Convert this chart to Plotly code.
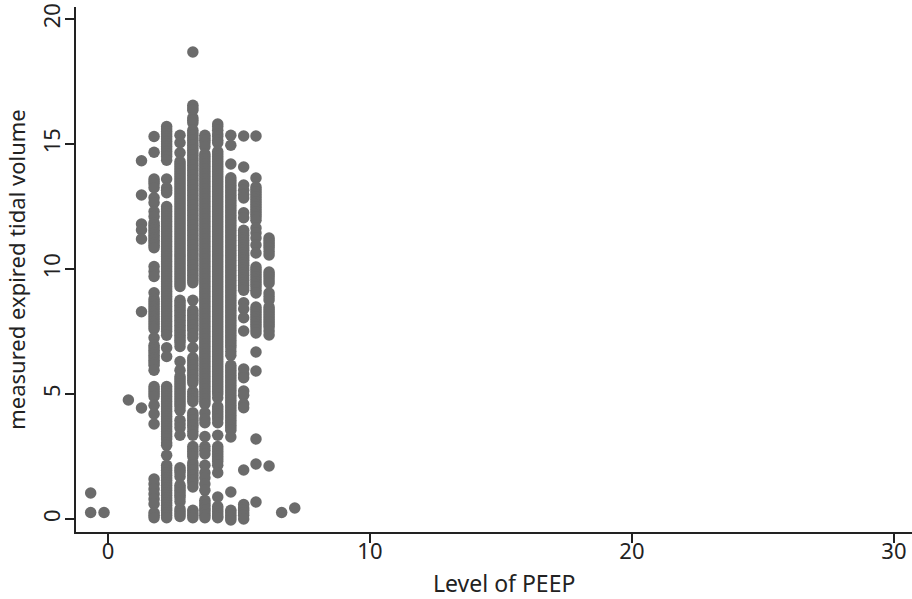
import plotly.graph_objects as go

peep_levels = [-0.66, -0.15, 0.78, 1.28, 1.76, 2.24, 2.75, 3.24, 3.70, 4.19, 4.69, 5.18, 5.65, 6.15, 6.63, 7.13]

volumes = [
    [1.04, 0.26],
    [0.26],
    [4.76],
    [14.33, 12.96, 11.8, 11.56, 11.2, 8.29, 4.44],
    [15.3, 14.67, 13.6, 13.5, 13.4, 13.25, 12.85, 12.65, 12.3, 12.1, 11.85, 11.75, 11.65, 11.55, 11.45, 11.35, 11.25, 11.15, 11.05, 10.95, 10.85, 10.1, 9.9, 9.7,
     9.05, 8.8, 8.7, 8.6, 8.5, 8.4, 8.3, 8.2, 8.1, 8.0, 7.9, 7.8, 7.7, 7.6, 7.25, 6.95, 6.85, 6.75, 6.65, 6.55, 6.45, 6.35, 6.25, 6.15, 5.95, 5.3, 5.2, 5.1, 5.0, 4.9, 4.55, 4.2, 3.8,
     1.6, 1.4, 1.2, 1.0, 0.8, 0.6, 0.25, 0.15, 0.05],
    [15.7, 15.6, 15.5, 15.4, 15.3, 15.2, 15.1, 15.0, 14.9, 14.8, 14.7, 14.6, 14.5, 14.35, 13.6, 13.25, 13.15, 13.05,
     12.5, 12.4, 12.3, 12.2, 12.1, 12.0, 11.9, 11.8, 11.7, 11.6, 11.5, 11.4, 11.3, 11.2, 11.1, 11.0, 10.9, 10.8, 10.7, 10.6, 10.5, 10.4, 10.3, 10.2, 10.1, 10.0,
     9.9, 9.8, 9.7, 9.6, 9.5, 9.4, 9.3, 9.2, 9.1, 9.0, 8.9, 8.8, 8.7, 8.6, 8.5, 8.4, 8.3, 8.2, 8.1, 8.0, 7.9, 7.8, 7.7, 7.6, 7.5, 7.35, 6.85, 6.5,
     5.3, 5.2, 5.1, 5.0, 4.9, 4.8, 4.7, 4.6, 4.5, 4.4, 4.3, 4.2, 4.1, 4.0, 3.9, 3.8, 3.7, 3.6, 3.5, 3.4, 3.3, 3.2, 3.05, 2.95, 2.55,
     2.15, 2.05, 1.95, 1.85, 1.75, 1.65, 1.55, 1.45, 1.35, 1.25, 1.15, 1.05, 0.95, 0.85, 0.75, 0.65, 0.55, 0.45, 0.35, 0.25, 0.15, 0.05],
    [15.35, 15.05, 14.65, 14.3, 14.2, 14.1, 14.0, 13.9, 13.8, 13.7, 13.6, 13.5, 13.4, 13.3, 13.2, 13.1, 13.0, 12.9, 12.8, 12.7, 12.6, 12.5, 12.4, 12.3, 12.2, 12.1, 12.0,
     11.9, 11.8, 11.7, 11.6, 11.5, 11.4, 11.3, 11.2, 11.1, 11.0, 10.9, 10.8, 10.7, 10.6, 10.5, 10.4, 10.3, 10.2, 10.1, 10.0, 9.9, 9.8, 9.7, 9.6, 9.5, 9.4, 9.3,
     8.75, 8.65, 8.55, 8.45, 8.35, 8.25, 8.15, 8.05, 7.95, 7.85, 7.75, 7.65, 7.55, 7.45, 7.35, 7.25, 7.15, 7.05, 6.9,
     6.3, 5.95, 5.7, 5.6, 5.5, 5.4, 5.3, 5.2, 5.1, 5.0, 4.9, 4.8, 4.7, 4.6, 4.5, 4.35, 3.95, 3.8, 3.65, 3.35, 2.05, 1.95, 1.85, 1.7, 1.35, 1.25, 1.15, 1.05, 0.95, 0.85, 0.7,
     0.4, 0.3, 0.2, 0.1],
    [18.68, 16.55, 16.45, 16.35, 16.05, 15.95, 15.85, 15.55, 15.45, 15.35, 15.25, 15.15, 15.05, 14.95, 14.85, 14.75, 14.65, 14.55, 14.45, 14.35, 14.25, 14.15, 14.05, 13.95, 13.85, 13.75, 13.65, 13.55, 13.45, 13.35,
     13.25, 13.15, 13.05, 12.95, 12.85, 12.75, 12.65, 12.55, 12.45, 12.35, 12.25, 12.15, 12.05, 11.95, 11.85, 11.75, 11.65, 11.55, 11.45, 11.35, 11.25, 11.15, 11.05, 10.95, 10.85, 10.75, 10.65, 10.55, 10.45, 10.35, 10.25, 10.15, 10.05, 9.95,
     9.85, 9.75, 9.65, 9.55, 9.45, 8.75, 8.35, 8.25, 8.15, 8.05, 7.95, 7.85, 7.75, 7.65, 7.55, 7.4, 7.25, 6.85, 6.45, 6.35, 6.25, 6.15, 6.05, 5.95, 5.85, 5.75, 5.65, 5.55, 5.45, 5.1, 5.0, 4.9, 4.8, 4.7,
     4.25, 4.15, 4.05, 3.95, 3.85, 3.75, 3.65, 3.5, 3.35, 2.9, 2.8, 2.7, 2.6, 2.5, 2.25, 2.15, 2.05, 1.95, 1.85, 1.75, 1.65, 1.55, 1.45, 1.28, 0.35, 0.25, 0.15, 0.05],
    [15.35, 15.25, 15.15, 15.05, 14.9, 14.6, 14.5, 14.4, 14.3, 14.2, 14.1, 14.0, 13.9, 13.8, 13.7, 13.6, 13.5, 13.4, 13.3, 13.2, 13.1, 13.0, 12.9, 12.8, 12.7, 12.6, 12.5, 12.4, 12.3, 12.2, 12.1, 12.0,
     11.9, 11.8, 11.7, 11.6, 11.5, 11.4, 11.3, 11.2, 11.1, 11.0, 10.9, 10.8, 10.7, 10.6, 10.5, 10.4, 10.3, 10.2, 10.1, 10.0, 9.9, 9.8, 9.7, 9.6, 9.5, 9.4, 9.3, 9.2, 9.1, 9.0,
     8.9, 8.8, 8.7, 8.6, 8.5, 8.4, 8.3, 8.2, 8.1, 8.0, 7.9, 7.8, 7.7, 7.6, 7.5, 7.4, 7.3, 7.2, 7.1, 7.0, 6.9, 6.8, 6.7, 6.6, 6.5, 6.4, 6.3, 6.2, 6.1, 6.0,
     5.9, 5.8, 5.7, 5.6, 5.5, 5.4, 5.3, 5.2, 5.1, 5.0, 4.9, 4.8, 4.7, 4.6, 4.25, 4.0, 3.85, 3.3, 2.9, 2.75, 2.6, 2.15, 1.85,
     1.65, 1.4, 1.15, 0.75, 0.65, 0.55, 0.45, 0.35, 0.25, 0.15, 0.05],
    [15.8, 15.7, 15.55, 15.4, 15.3, 15.15, 15.05, 14.7, 14.6, 14.5, 14.4, 14.3, 14.2, 14.1, 14.0, 13.9, 13.8, 13.7, 13.6, 13.5, 13.4, 13.3, 13.2, 13.1, 13.0, 12.9, 12.8, 12.7, 12.6, 12.5, 12.4, 12.3, 12.2, 12.1, 12.0,
     11.9, 11.8, 11.7, 11.6, 11.5, 11.4, 11.3, 11.2, 11.1, 11.0, 10.9, 10.8, 10.7, 10.6, 10.5, 10.4, 10.3, 10.2, 10.1, 10.0, 9.9, 9.8, 9.7, 9.6, 9.5, 9.4, 9.3, 9.2, 9.1, 9.0,
     8.9, 8.8, 8.7, 8.6, 8.5, 8.4, 8.3, 8.2, 8.1, 8.0, 7.9, 7.8, 7.7, 7.6, 7.5, 7.4, 7.3, 7.2, 7.1, 7.0, 6.9, 6.8, 6.7, 6.6, 6.5, 6.4, 6.3, 6.2, 6.1, 6.0,
     5.9, 5.8, 5.7, 5.6, 5.5, 5.4, 5.3, 5.2, 5.1, 5.0, 4.85, 4.5, 4.4, 4.3, 4.2, 4.1, 4.0, 3.85, 3.35, 2.9, 2.8, 2.7, 2.6, 2.5, 2.4, 2.3, 2.15,
     1.85, 0.88, 0.5, 0.4, 0.3, 0.2, 0.1, 0.05],
    [15.35, 14.95, 14.2, 13.65, 13.55, 13.45, 13.35, 13.25, 13.15, 13.05, 12.95, 12.85, 12.75, 12.65, 12.55, 12.45, 12.35, 12.25, 12.15, 12.05, 11.95, 11.85, 11.75, 11.65, 11.55, 11.45, 11.35, 11.25, 11.15, 11.05,
     10.95, 10.85, 10.75, 10.65, 10.55, 10.45, 10.35, 10.25, 10.15, 10.05, 9.95, 9.85, 9.75, 9.65, 9.55, 9.45, 9.35, 9.25, 9.15, 9.05, 8.95, 8.85, 8.75, 8.65, 8.55, 8.45, 8.35, 8.25, 8.15, 8.05,
     7.95, 7.85, 7.75, 7.65, 7.55, 7.45, 7.35, 7.25, 7.15, 7.05, 6.95, 6.85, 6.7, 6.55, 6.15, 6.05, 5.95, 5.85, 5.75, 5.65, 5.55, 5.45, 5.35, 5.25, 5.15, 5.05, 4.95, 4.85, 4.75, 4.65, 4.55,
     4.45, 4.35, 4.25, 4.15, 4.05, 3.95, 3.85, 3.75, 3.65, 3.55, 3.28, 1.08, 0.35, 0.25, 0.15, 0.05, -0.04],
    [15.32, 14.08, 13.36, 13.15, 12.98, 12.84, 12.25, 12.05, 11.55, 11.45, 11.35, 11.25, 11.15, 11.05, 10.95, 10.85, 10.75, 10.65, 10.55, 10.45, 10.35, 10.25, 10.15, 10.05, 9.95,
     9.85, 9.75, 9.65, 9.55, 9.45, 9.35, 9.25, 9.15, 8.65, 8.4, 8.05, 7.52, 6.0, 5.8, 5.65, 5.12, 4.95, 4.6, 4.45, 1.96, 0.58, 0.45, 0.35, 0.25, 0.15, 0.0],
    [15.32, 13.64, 13.28, 13.18, 13.08, 12.98, 12.88, 12.78, 12.68, 12.58, 12.48, 12.38, 12.28, 12.18, 12.08, 11.95, 11.64, 11.44, 11.24, 10.96, 10.64, 10.08, 9.98, 9.88,
     9.78, 9.68, 9.58, 9.48, 9.38, 9.28, 9.15, 9.04, 8.48, 8.38, 8.28, 8.18, 8.08, 7.98, 7.88, 7.78, 7.68, 7.56, 7.44, 6.68, 5.92, 3.2, 2.2, 0.68],
    [11.24, 11.14, 11.04, 10.94, 10.84, 10.7, 10.56, 9.88, 9.78, 9.68, 9.56, 9.44, 9.04, 8.9, 8.76, 8.48, 8.38, 8.28, 8.18, 8.08, 7.98, 7.88, 7.78, 7.68, 7.52, 7.36, 2.12],
    [0.26],
    [0.44],
]

x_ticks = [0, 10, 20, 30]
y_ticks = [0, 5, 10, 15, 20]
x_title = "Level of PEEP"
y_title = "measured expired tidal volume"

xs = [level for level, col in zip(peep_levels, volumes) for _ in col]
ys = [v for col in volumes for v in col]

FONT = "Noto Sans"
INK = "#222222"
fig = go.Figure(go.Scatter(
    x=xs, y=ys, mode="markers", cliponaxis=False,
    marker=dict(color="#6b6b6b", size=11.5, line=dict(width=0)),
))

axis_style = dict(
    showgrid=False, zeroline=False, showline=True, linecolor=INK, linewidth=2,
    ticks="outside", ticklen=9, tickwidth=2, tickcolor=INK,
    tickfont=dict(family=FONT, size=22, color=INK),
)
fig.update_layout(
    width=912, height=599, autosize=False,
    margin=dict(l=76, r=0, t=7, b=67),
    paper_bgcolor="white", plot_bgcolor="white", showlegend=False,
    xaxis=dict(range=[-1.22, 30.69], tickvals=x_ticks, ticktext=[str(t) for t in x_ticks],
               ticklabelstandoff=-10, **axis_style),
    yaxis=dict(range=[-0.52, 20.48], tickvals=y_ticks, ticktext=[str(t) for t in y_ticks], tickangle=-90,
               ticklabelstandoff=-4, automargin=False,
               title=dict(text=y_title, font=dict(family=FONT, size=22, color=INK), standoff=5),
               **axis_style),
    annotations=[dict(text=x_title, xref="paper", yref="paper", x=(504 - 76) / 836, y=(532 - 583) / 525,
                      xanchor="center", yanchor="middle", showarrow=False,
                      font=dict(family=FONT, size=23, color=INK))],
)
fig.write_html("out.html", config={"displayModeBar": False},
               post_script="document.body.style.margin='0';document.body.style.overflow='hidden';")
